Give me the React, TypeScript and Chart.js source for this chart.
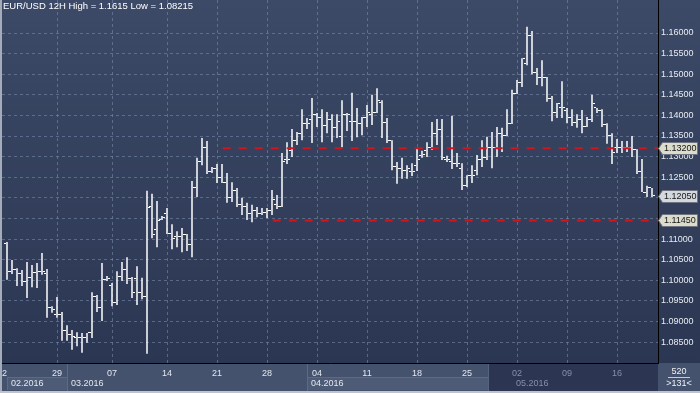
import React, { useEffect, useRef } from 'react';
import { Chart, registerables } from 'chart.js';

Chart.register(...registerables);

const TITLE = 'EUR/USD 12H High = 1.1615 Low = 1.08215';

const opens = [
  1.1088, 1.1022, 1.1027, 1.1017, 1.0998, 1.1006, 1.1018, 1.1022, 1.1017, 1.0935,
  1.0916, 1.0916, 1.0877, 1.0869, 1.0862, 1.0862, 1.0862, 1.0872, 1.0961, 1.0935,
  1.1001, 1.0988, 1.0945, 1.1008, 1.1025, 1.1003, 1.1003, 1.0969, 1.0961, 1.1178,
  1.1122, 1.1148, 1.1163, 1.1114, 1.1105, 1.1107, 1.1110, 1.1086, 1.1224, 1.1287,
  1.1321, 1.1263, 1.1272, 1.1250, 1.1238, 1.1200, 1.1217, 1.1183, 1.1178, 1.1163,
  1.1170, 1.1163, 1.1165, 1.1170, 1.1183, 1.1180, 1.1292, 1.1316, 1.1340, 1.1357,
  1.1381, 1.1389, 1.1401, 1.1394, 1.1375, 1.1391, 1.1370, 1.1350, 1.1401, 1.1386,
  1.1386, 1.1381, 1.1394, 1.1401, 1.1408, 1.1432, 1.1384, 1.1338, 1.1275, 1.1270,
  1.1267, 1.1265, 1.1279, 1.1302, 1.1316, 1.1323, 1.1357, 1.1367, 1.1292, 1.1289,
  1.1284, 1.1272, 1.1231, 1.1255, 1.1267, 1.1294, 1.1299, 1.1323, 1.1323, 1.1357,
  1.1352, 1.1381, 1.1454, 1.1479, 1.1527, 1.1595, 1.1503, 1.1493, 1.1491, 1.1442,
  1.1408, 1.1420, 1.1413, 1.1396, 1.1384, 1.1389, 1.1372, 1.1389, 1.1418, 1.1411,
  1.1379, 1.1352, 1.1321, 1.1321, 1.1323, 1.1323, 1.1318, 1.1263, 1.1214, 1.1224,
];
const highs = [
  1.1093, 1.1049, 1.1029, 1.1025, 1.1044, 1.1037, 1.1042, 1.1066, 1.1027, 1.0937,
  1.0959, 1.0923, 1.0891, 1.0879, 1.0874, 1.0872, 1.0872, 1.0971, 1.0964, 1.1042,
  1.1010, 1.0993, 1.1022, 1.1044, 1.1056, 1.1008, 1.1034, 1.1006, 1.1217, 1.1210,
  1.1192, 1.1156, 1.1175, 1.1136, 1.1119, 1.1127, 1.1112, 1.1241, 1.1297, 1.1345,
  1.1338, 1.1275, 1.1282, 1.1282, 1.1260, 1.1238, 1.1224, 1.1200, 1.1188, 1.1183,
  1.1178, 1.1175, 1.1175, 1.1219, 1.1207, 1.1309, 1.1335, 1.1367, 1.1360, 1.1415,
  1.1394, 1.1442, 1.1406, 1.1415, 1.1408, 1.1403, 1.1403, 1.1437, 1.1406, 1.1455,
  1.1418, 1.1396, 1.1425, 1.1450, 1.1466, 1.1437, 1.1394, 1.1340, 1.1287, 1.1297,
  1.1279, 1.1284, 1.1321, 1.1314, 1.1335, 1.1384, 1.1391, 1.1391, 1.1302, 1.1399,
  1.1309, 1.1284, 1.1255, 1.1279, 1.1304, 1.1340, 1.1348, 1.1360, 1.1372, 1.1370,
  1.1415, 1.1462, 1.1486, 1.1539, 1.1615, 1.1605, 1.1515, 1.1534, 1.1493, 1.1447,
  1.1430, 1.1483, 1.1418, 1.1415, 1.1403, 1.1413, 1.1396, 1.1450, 1.1418, 1.1415,
  1.1381, 1.1357, 1.1343, 1.1338, 1.1338, 1.1350, 1.1318, 1.1294, 1.1229, 1.1224,
];
const lows = [
  1.1001, 1.1015, 1.0986, 1.0986, 1.0957, 1.0983, 1.0981, 1.1013, 1.0909, 1.0921,
  1.0909, 1.0853, 1.0853, 1.0831, 1.0840, 1.0824, 1.0848, 1.0860, 1.0923, 1.0901,
  1.0998, 1.0937, 1.0940, 1.0998, 1.0991, 1.0957, 1.0940, 1.0954, 1.08215, 1.1102,
  1.1080, 1.1146, 1.1112, 1.1075, 1.1080, 1.1068, 1.1071, 1.1056, 1.1202, 1.1279,
  1.1258, 1.1260, 1.1236, 1.1236, 1.1188, 1.1190, 1.1178, 1.1158, 1.1146, 1.1141,
  1.1153, 1.1158, 1.1151, 1.1158, 1.1173, 1.1178, 1.1282, 1.1299, 1.1328, 1.1340,
  1.1367, 1.1333, 1.1372, 1.1335, 1.1357, 1.1335, 1.1345, 1.1323, 1.1362, 1.1338,
  1.1347, 1.1352, 1.1372, 1.1377, 1.1406, 1.1345, 1.1333, 1.1267, 1.1234, 1.1246,
  1.1246, 1.1253, 1.1265, 1.1297, 1.1299, 1.1316, 1.1328, 1.1292, 1.1287, 1.1270,
  1.1275, 1.1219, 1.1226, 1.1236, 1.1255, 1.1275, 1.1292, 1.1272, 1.1299, 1.1311,
  1.1350, 1.1379, 1.1452, 1.1469, 1.1522, 1.1500, 1.1474, 1.1471, 1.1433, 1.1386,
  1.1394, 1.1394, 1.1381, 1.1374, 1.1370, 1.1357, 1.1372, 1.1384, 1.1406, 1.1372,
  1.1331, 1.1282, 1.1309, 1.1309, 1.1311, 1.1299, 1.1258, 1.1214, 1.1202, 1.1202,
];
const closes = [
  1.1020, 1.1027, 1.1017, 1.0998, 1.1006, 1.1018, 1.1022, 1.1020, 1.0935, 1.0928,
  1.0918, 1.0877, 1.0869, 1.0864, 1.0862, 1.0862, 1.0872, 1.0961, 1.0935, 1.1001,
  1.1003, 1.0945, 1.1010, 1.1025, 1.1003, 1.0971, 1.0969, 1.0961, 1.1177, 1.1112,
  1.1146, 1.1153, 1.1114, 1.1102, 1.1107, 1.1110, 1.1086, 1.1224, 1.1287, 1.1321,
  1.1263, 1.1272, 1.1250, 1.1238, 1.1200, 1.1217, 1.1183, 1.1178, 1.1163, 1.1170,
  1.1163, 1.1165, 1.1170, 1.1195, 1.1180, 1.1289, 1.1292, 1.1340, 1.1357, 1.1381,
  1.1381, 1.1401, 1.1394, 1.1375, 1.1391, 1.1370, 1.1386, 1.1401, 1.1401, 1.1386,
  1.1381, 1.1394, 1.1408, 1.1408, 1.1437, 1.1384, 1.1338, 1.1275, 1.1270, 1.1267,
  1.1270, 1.1265, 1.1292, 1.1304, 1.1323, 1.1357, 1.1367, 1.1299, 1.1292, 1.1284,
  1.1284, 1.1231, 1.1255, 1.1255, 1.1292, 1.1299, 1.1323, 1.1323, 1.1357, 1.1352,
  1.1381, 1.1454, 1.1479, 1.1537, 1.1595, 1.1503, 1.1493, 1.1491, 1.1442, 1.1408,
  1.1428, 1.1420, 1.1396, 1.1384, 1.1389, 1.1372, 1.1389, 1.1430, 1.1411, 1.1379,
  1.1352, 1.1309, 1.1321, 1.1323, 1.1323, 1.1318, 1.1263, 1.1214, 1.1226, 1.1205,
];

// x axis (bar index) day ticks
const dayTickIdx = [-1, 10, 21, 32, 42, 52, 62, 72, 82, 92, 102, 112, 122];
const dayTickLabels = ['22', '29', '07', '14', '21', '28', '04', '11', '18', '25', '02', '09', '16'];
const monthLabels = ['02.2016', '03.2016', '04.2016', '05.2016'];
const monthStartIdx = [0, 12, 60, 101];
const shadeFromIdx = 96.4;
const dimFromIdx = 100;

// price axis
const priceTicks = [1.085, 1.09, 1.095, 1.1, 1.105, 1.11, 1.115, 1.12, 1.125, 1.13, 1.135, 1.14, 1.145, 1.15, 1.155, 1.16];
const resistanceLevel = 1.132;
const resistanceFromIdx = 43.14;
const supportLevel = 1.1145;
const supportFromIdx = 53.14;
const lastPrice = 1.1205;
const barCount = 520;
const visibleCount = 131;

const X_MIN = -1.0;
const X_MAX = 130.2;
const Y_MIN = 1.07991;
const Y_MAX = 1.16801;

const FONT = '"Liberation Sans", Arial, sans-serif';
const BAR_COLOR = '#ffffff';
const GRID = 'rgba(120,136,168,0.6)';
const RED = '#d2141c';

function tickImage(side: 'l' | 'r'): HTMLCanvasElement {
  const c = document.createElement('canvas');
  c.width = 6;
  c.height = 1;
  const g = c.getContext('2d')!;
  g.fillStyle = BAR_COLOR;
  g.fillRect(side === 'l' ? 0 : 4, 0, 2, 1);
  return c;
}

const decorPlugin = {
  id: 'decor',
  beforeDraw(chart: any) {
    const { ctx, chartArea: a, width, height } = chart;
    const xs = chart.scales.x;
    ctx.save();
    const g = ctx.createLinearGradient(0, 0, 0, a.bottom);
    g.addColorStop(0, '#3c4a67');
    g.addColorStop(1, '#2b3652');
    ctx.fillStyle = g;
    ctx.fillRect(0, 0, width, a.bottom);
    ctx.fillStyle = '#44526e';
    ctx.fillRect(0, a.bottom, width, height - a.bottom);
    const mx = monthStartIdx.map((v) => Math.round(xs.getPixelForValue(v)));
    const shadeX = Math.round(xs.getPixelForValue(shadeFromIdx));
    ctx.fillStyle = '#4d5b77';
    ctx.fillRect(mx[0], a.bottom + 14, mx[1] - mx[0], 13);
    ctx.fillRect(mx[2], a.bottom + 14, shadeX - mx[2], 13);
    ctx.fillStyle = '#5c6a86';
    ctx.fillRect(mx[0], a.bottom + 14, mx[1] - mx[0], 1);
    ctx.fillRect(mx[2], a.bottom + 14, shadeX - mx[2], 1);
    ctx.fillRect(mx[0], a.bottom + 14, 1, 13);
    ctx.fillRect(mx[1], a.bottom + 1, 1, height - a.bottom - 1);
    ctx.fillRect(mx[2], a.bottom + 1, 1, height - a.bottom - 1);
    ctx.fillStyle = '#2c3652';
    ctx.fillRect(shadeX, a.bottom + 1, a.right - shadeX, height - a.bottom - 1);
    ctx.fillStyle = '#56637d';
    ctx.fillRect(shadeX - 1, a.bottom + 1, 1, height - a.bottom - 1);
    ctx.restore();
  },
  beforeDatasetsDraw(chart: any) {
    chart.ctx.imageSmoothingEnabled = false;
  },
  afterDraw(chart: any) {
    const { ctx, chartArea: a, width, height } = chart;
    const xs = chart.scales.x;
    const ys = chart.scales.y;
    ctx.save();
    ctx.imageSmoothingEnabled = true;
    ctx.font = `9.5px ${FONT}`;
    ctx.fillStyle = '#ffffff';
    ctx.textBaseline = 'top';
    ctx.textAlign = 'left';
    ctx.fillText(TITLE, 3, 2);
    ctx.font = `9px ${FONT}`;
    ctx.textBaseline = 'middle';
    monthLabels.forEach((m, i) => {
      const px = Math.round(xs.getPixelForValue(monthStartIdx[i]));
      ctx.fillStyle = monthStartIdx[i] >= dimFromIdx ? '#8590a8' : '#e4e8ef';
      ctx.fillText(m, px + 4, a.bottom + 21);
    });
    const boxes: [number, string][] = [
      [resistanceLevel, '#dcdccd'],
      [lastPrice, '#d3d7de'],
      [supportLevel, '#dcdccd'],
    ];
    boxes.forEach(([p, col]) => {
      const y = Math.round(ys.getPixelForValue(p)) + 0.5;
      const x0 = a.right + 0.5;
      ctx.beginPath();
      ctx.moveTo(x0, y);
      ctx.lineTo(x0 + 4, y - 6);
      ctx.lineTo(width - 2.5, y - 6);
      ctx.lineTo(width - 2.5, y + 6);
      ctx.lineTo(x0 + 4, y + 6);
      ctx.closePath();
      ctx.fillStyle = col;
      ctx.fill();
      ctx.strokeStyle = '#6f7480';
      ctx.lineWidth = 1;
      ctx.stroke();
      ctx.fillStyle = '#151515';
      ctx.textAlign = 'left';
      ctx.fillText(p.toFixed(5), a.right + 6, y + 0.5);
    });
    const cx = (a.right + width) / 2;
    ctx.textAlign = 'center';
    ctx.fillStyle = '#eef1f5';
    ctx.fillText(String(barCount), cx, a.bottom + 9);
    ctx.fillStyle = '#c5cbd6';
    ctx.fillRect(cx - 11, a.bottom + 14, 22, 1);
    ctx.fillStyle = '#eef1f5';
    ctx.fillText('>' + visibleCount + '<', cx, a.bottom + 21);
    ctx.fillStyle = '#a4acba';
    ctx.fillRect(0, 0, 2, height);
    ctx.fillStyle = '#bfc4cc';
    ctx.fillRect(0, height - 2, width, 2);
    ctx.restore();
  },
};

export default function App() {
  const ref = useRef<HTMLCanvasElement>(null);

  useEffect(() => {
    document.body.style.margin = '0';
    const canvas = ref.current!;
    const openImg = tickImage('l');
    const closeImg = tickImage('r');

    const chart = new Chart(canvas, {
      type: 'line',
      data: {
        datasets: [
          {
            type: 'line',
            label: 'resistance',
            data: [
              { x: resistanceFromIdx, y: resistanceLevel },
              { x: X_MAX, y: resistanceLevel },
            ],
            borderColor: RED,
            borderWidth: 2,
            borderDash: [8, 8],
            pointRadius: 0,
            order: 0,
          },
          {
            type: 'line',
            label: 'support',
            data: [
              { x: supportFromIdx, y: supportLevel },
              { x: X_MAX, y: supportLevel },
            ],
            borderColor: RED,
            borderWidth: 2,
            borderDash: [8, 8],
            pointRadius: 0,
            order: 0,
          },
          {
            type: 'line',
            label: 'open',
            data: opens.map((v, i) => ({ x: i, y: v })),
            showLine: false,
            pointStyle: openImg as any,
            pointRadius: 2,
            order: 1,
          },
          {
            type: 'line',
            label: 'close',
            data: closes.map((v, i) => ({ x: i, y: v })),
            showLine: false,
            pointStyle: closeImg as any,
            pointRadius: 2,
            order: 1,
          },
          {
            type: 'bar',
            label: 'range',
            data: highs.map((h, i) => ({ x: i, y: [lows[i], h] })) as any,
            backgroundColor: BAR_COLOR,
            borderWidth: 0,
            barThickness: 1.5,
            inflateAmount: 0,
            order: 2,
          } as any,
        ],
      },
      options: {
        responsive: false,
        animation: false,
        events: [],
        layout: { padding: { left: 2, top: 0, right: 0, bottom: 0 }, autoPadding: false },
        plugins: {
          legend: { display: false },
          tooltip: { enabled: false },
          title: { display: false },
        },
        scales: {
          x: {
            type: 'linear',
            min: X_MIN,
            max: X_MAX,
            offset: false,
            position: 'bottom',
            afterFit: (s: any) => {
              s.height = 30;
              s.paddingLeft = 0;
              s.paddingRight = 0;
              s.paddingTop = 0;
              s.paddingBottom = 0;
            },
            afterBuildTicks: (s: any) => {
              s.ticks = dayTickIdx.map((v) => ({ value: v }));
            },
            grid: {
              offset: false,
              drawTicks: false,
              color: (c: any) => (c.index === 0 ? 'rgba(0,0,0,0)' : GRID),
              lineWidth: 1,
            },
            border: { display: true, color: '#000000', width: 1, dash: [3, 3] },
            ticks: {
              autoSkip: false,
              maxRotation: 0,
              padding: 5,
              font: { family: FONT, size: 9 },
              color: (c: any) => (dayTickIdx[c.index] >= dimFromIdx ? '#8590a8' : '#e4e8ef'),
              callback: (_v: any, i: number) => dayTickLabels[i],
            },
          },
          y: {
            type: 'linear',
            position: 'right',
            min: Y_MIN,
            max: Y_MAX,
            afterFit: (s: any) => {
              s.width = 42;
              s.paddingTop = 0;
              s.paddingBottom = 0;
              s.paddingLeft = 0;
              s.paddingRight = 0;
            },
            afterBuildTicks: (s: any) => {
              s.ticks = priceTicks.map((v) => ({ value: v }));
            },
            grid: { drawTicks: false, color: GRID, lineWidth: 1 },
            border: { display: true, color: '#000000', width: 1, dash: [3, 3] },
            ticks: {
              padding: 3,
              font: { family: FONT, size: 9 },
              color: '#e8ecf2',
              callback: (v: any) => Number(v).toFixed(5),
            },
          },
        },
      },
      plugins: [decorPlugin],
    } as any);

    return () => chart.destroy();
  }, []);

  return (
    <div style={{ width: 700, height: 393 }}>
      <canvas ref={ref} width={700} height={393} style={{ display: 'block' }} />
    </div>
  );
}
